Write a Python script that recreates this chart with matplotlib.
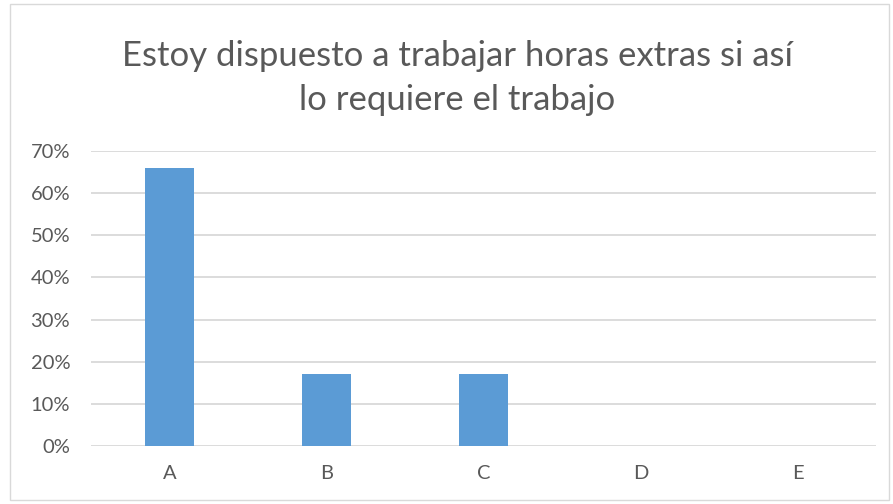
import matplotlib
matplotlib.use("Agg")
import matplotlib.pyplot as plt
from matplotlib.patches import Rectangle
from matplotlib.ticker import PercentFormatter

categories = ["A", "B", "C", "D", "E"]
values = [0.66, 0.17, 0.17, 0.0, 0.0]
yticks = [0, 0.1, 0.2, 0.3, 0.4, 0.5, 0.6, 0.7]
title = "Estoy dispuesto a trabajar horas extras si así\nlo requiere el trabajo"

plt.rcParams['font.family'] = ['Lato', 'DejaVu Sans']
W, H = 893, 504
fig = plt.figure(figsize=(W/100, H/100), dpi=100)
fig.patches.append(Rectangle((10/W, 4/H), 879/W, 496/H, transform=fig.transFigure,
                             fill=False, edgecolor="#d9d9d9", linewidth=1.0))

ax = fig.add_axes([91/W, 1-446/H, (876.5-91)/W, (446-151)/H])
x = range(len(categories))
ax.bar(x, values, width=0.31, color="#5b9bd5", zorder=3)
ax.set_xlim(-0.5, len(categories)-0.5)
ax.set_ylim(0, 0.7)
ax.set_yticks(yticks)
ax.yaxis.set_major_formatter(PercentFormatter(1.0, decimals=0))
ax.set_xticks(list(x))
ax.set_xticklabels(categories)
ax.grid(axis="y", color="#d9d9d9", linewidth=1.3, zorder=0)
ax.set_axisbelow(True)
for s in ax.spines.values():
    s.set_visible(False)
ax.tick_params(axis="both", length=0, colors="#595959", labelsize=14.5)
ax.tick_params(axis="y", pad=15)
ax.tick_params(axis="x", pad=14)

fig.text(457/W, 1-78/H, title, ha="center", va="center", fontsize=25,
         color="#595959", linespacing=1.45)

fig.savefig("out.png", dpi=100)
